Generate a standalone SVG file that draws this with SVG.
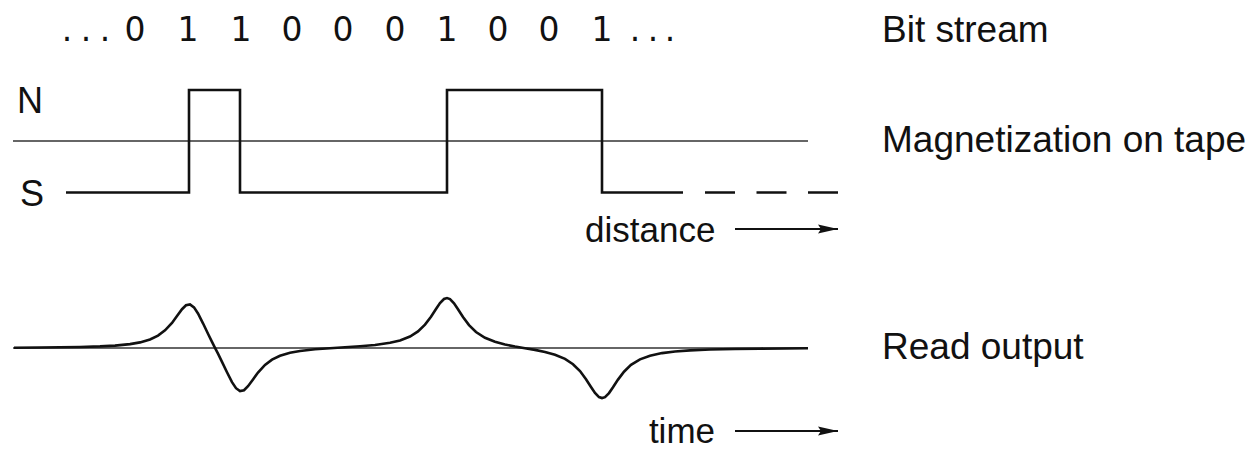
<svg xmlns="http://www.w3.org/2000/svg" width="1257" height="449" viewBox="0 0 1257 449">
<style>
.lbl{font-family:"Liberation Sans",Arial,sans-serif;font-size:37px;fill:#111}
.ax{font-family:"Liberation Sans",Arial,sans-serif;font-size:35px;fill:#111}
.bit{font-family:"DejaVu Sans",sans-serif;font-size:33px;fill:#111;text-anchor:middle}
.wave{fill:none;stroke:#111;stroke-width:2.6;stroke-linejoin:miter}
.axis{fill:none;stroke:#333;stroke-width:1.6}
.arr{fill:none;stroke:#111;stroke-width:2}
</style>
<defs>
<marker id="ah" markerUnits="userSpaceOnUse" markerWidth="20" markerHeight="12" refX="20" refY="6" orient="auto">
<path d="M0,1.5 L20,6 L0,10.5 L3,6 Z" fill="#111"/>
</marker>
</defs>
<rect width="1257" height="449" fill="#fff"/>
<g id="bitstream">
<text class="bit"><tspan x="67" y="41">.</tspan><tspan x="86" y="41">.</tspan><tspan x="105" y="41">.</tspan><tspan x="135" y="41">0</tspan><tspan x="188" y="41">1</tspan><tspan x="241" y="41">1</tspan><tspan x="292" y="41">0</tspan><tspan x="343" y="41">0</tspan><tspan x="395" y="41">0</tspan><tspan x="447" y="41">1</tspan><tspan x="498" y="41">0</tspan><tspan x="549" y="41">0</tspan><tspan x="602" y="41">1</tspan><tspan x="635" y="41">.</tspan><tspan x="653" y="41">.</tspan><tspan x="670" y="41">.</tspan></text>
</g>
<g id="labels">
<text class="lbl" x="882" y="42">Bit stream</text>
<text class="lbl" x="882" y="152">Magnetization on tape</text>
<text class="lbl" x="882" y="359">Read output</text>
</g>
<g id="magnetization">
<text class="lbl" x="17" y="113" style="font-size:36px">N</text>
<text class="lbl" x="20" y="206" style="font-size:36px">S</text>
<line class="axis" x1="13" y1="141" x2="808" y2="141"/>
<path class="wave" d="M66,192.5 H189 V90 H240 V192.5 H447 V90 H602 V192.5 H683"/>
<line class="wave" x1="705" y1="192.5" x2="838" y2="192.5" stroke-dasharray="30 21.5"/>
</g>
<g id="readout">
<line class="axis" x1="13" y1="348" x2="808" y2="348"/>
<polyline class="wave" stroke-linejoin="round" points="14,347.7 40,347.5 60,347.3 80,347 100,346.4 115,345.6 130,344.1 140,342.4 150,339.5 158,335.6 165,330.4 172,322.9 177,316 182,309.2 186,305.3 190,304.4 194,307.4 198,313.5 203,323.3 208,333.7 212,341.8 215,347.8 218,353.7 222,361.8 227,372.2 232,382.1 236,388.2 240,391.1 244,390.2 248,386.2 253,379.4 258,372.5 265,364.9 272,359.7 280,355.8 290,352.8 300,351 315,349.3 330,348.2 345,347.3 360,346.3 375,345 390,342.8 400,340.4 410,336.5 418,331.4 425,324.6 431,316.7 436,309 440,303.1 444,299 447,298.1 450,299.1 454,303.3 458,309.2 463,317 469,325.1 476,332 485,337.8 495,341.8 505,344.5 515,346.5 525,348.2 535,349.9 545,351.9 555,354.7 565,358.9 573,364.2 580,371.1 586,379.2 591,387 595,393 599,397.1 602,398.1 605,397.2 609,393.1 613,387.3 618,379.6 624,371.7 631,364.9 640,359.4 650,355.7 662,353.1 675,351.5 690,350.4 710,349.5 735,349 760,348.7 785,348.5 808,348.3"/>
</g>
<g id="connectors">
<text class="ax" x="585" y="242">distance</text>
<line class="arr" x1="735" y1="229" x2="838" y2="229" marker-end="url(#ah)"/>
<text class="ax" x="715" y="443" text-anchor="end">time</text>
<line class="arr" x1="735" y1="431" x2="838" y2="431" marker-end="url(#ah)"/>
</g>
</svg>
